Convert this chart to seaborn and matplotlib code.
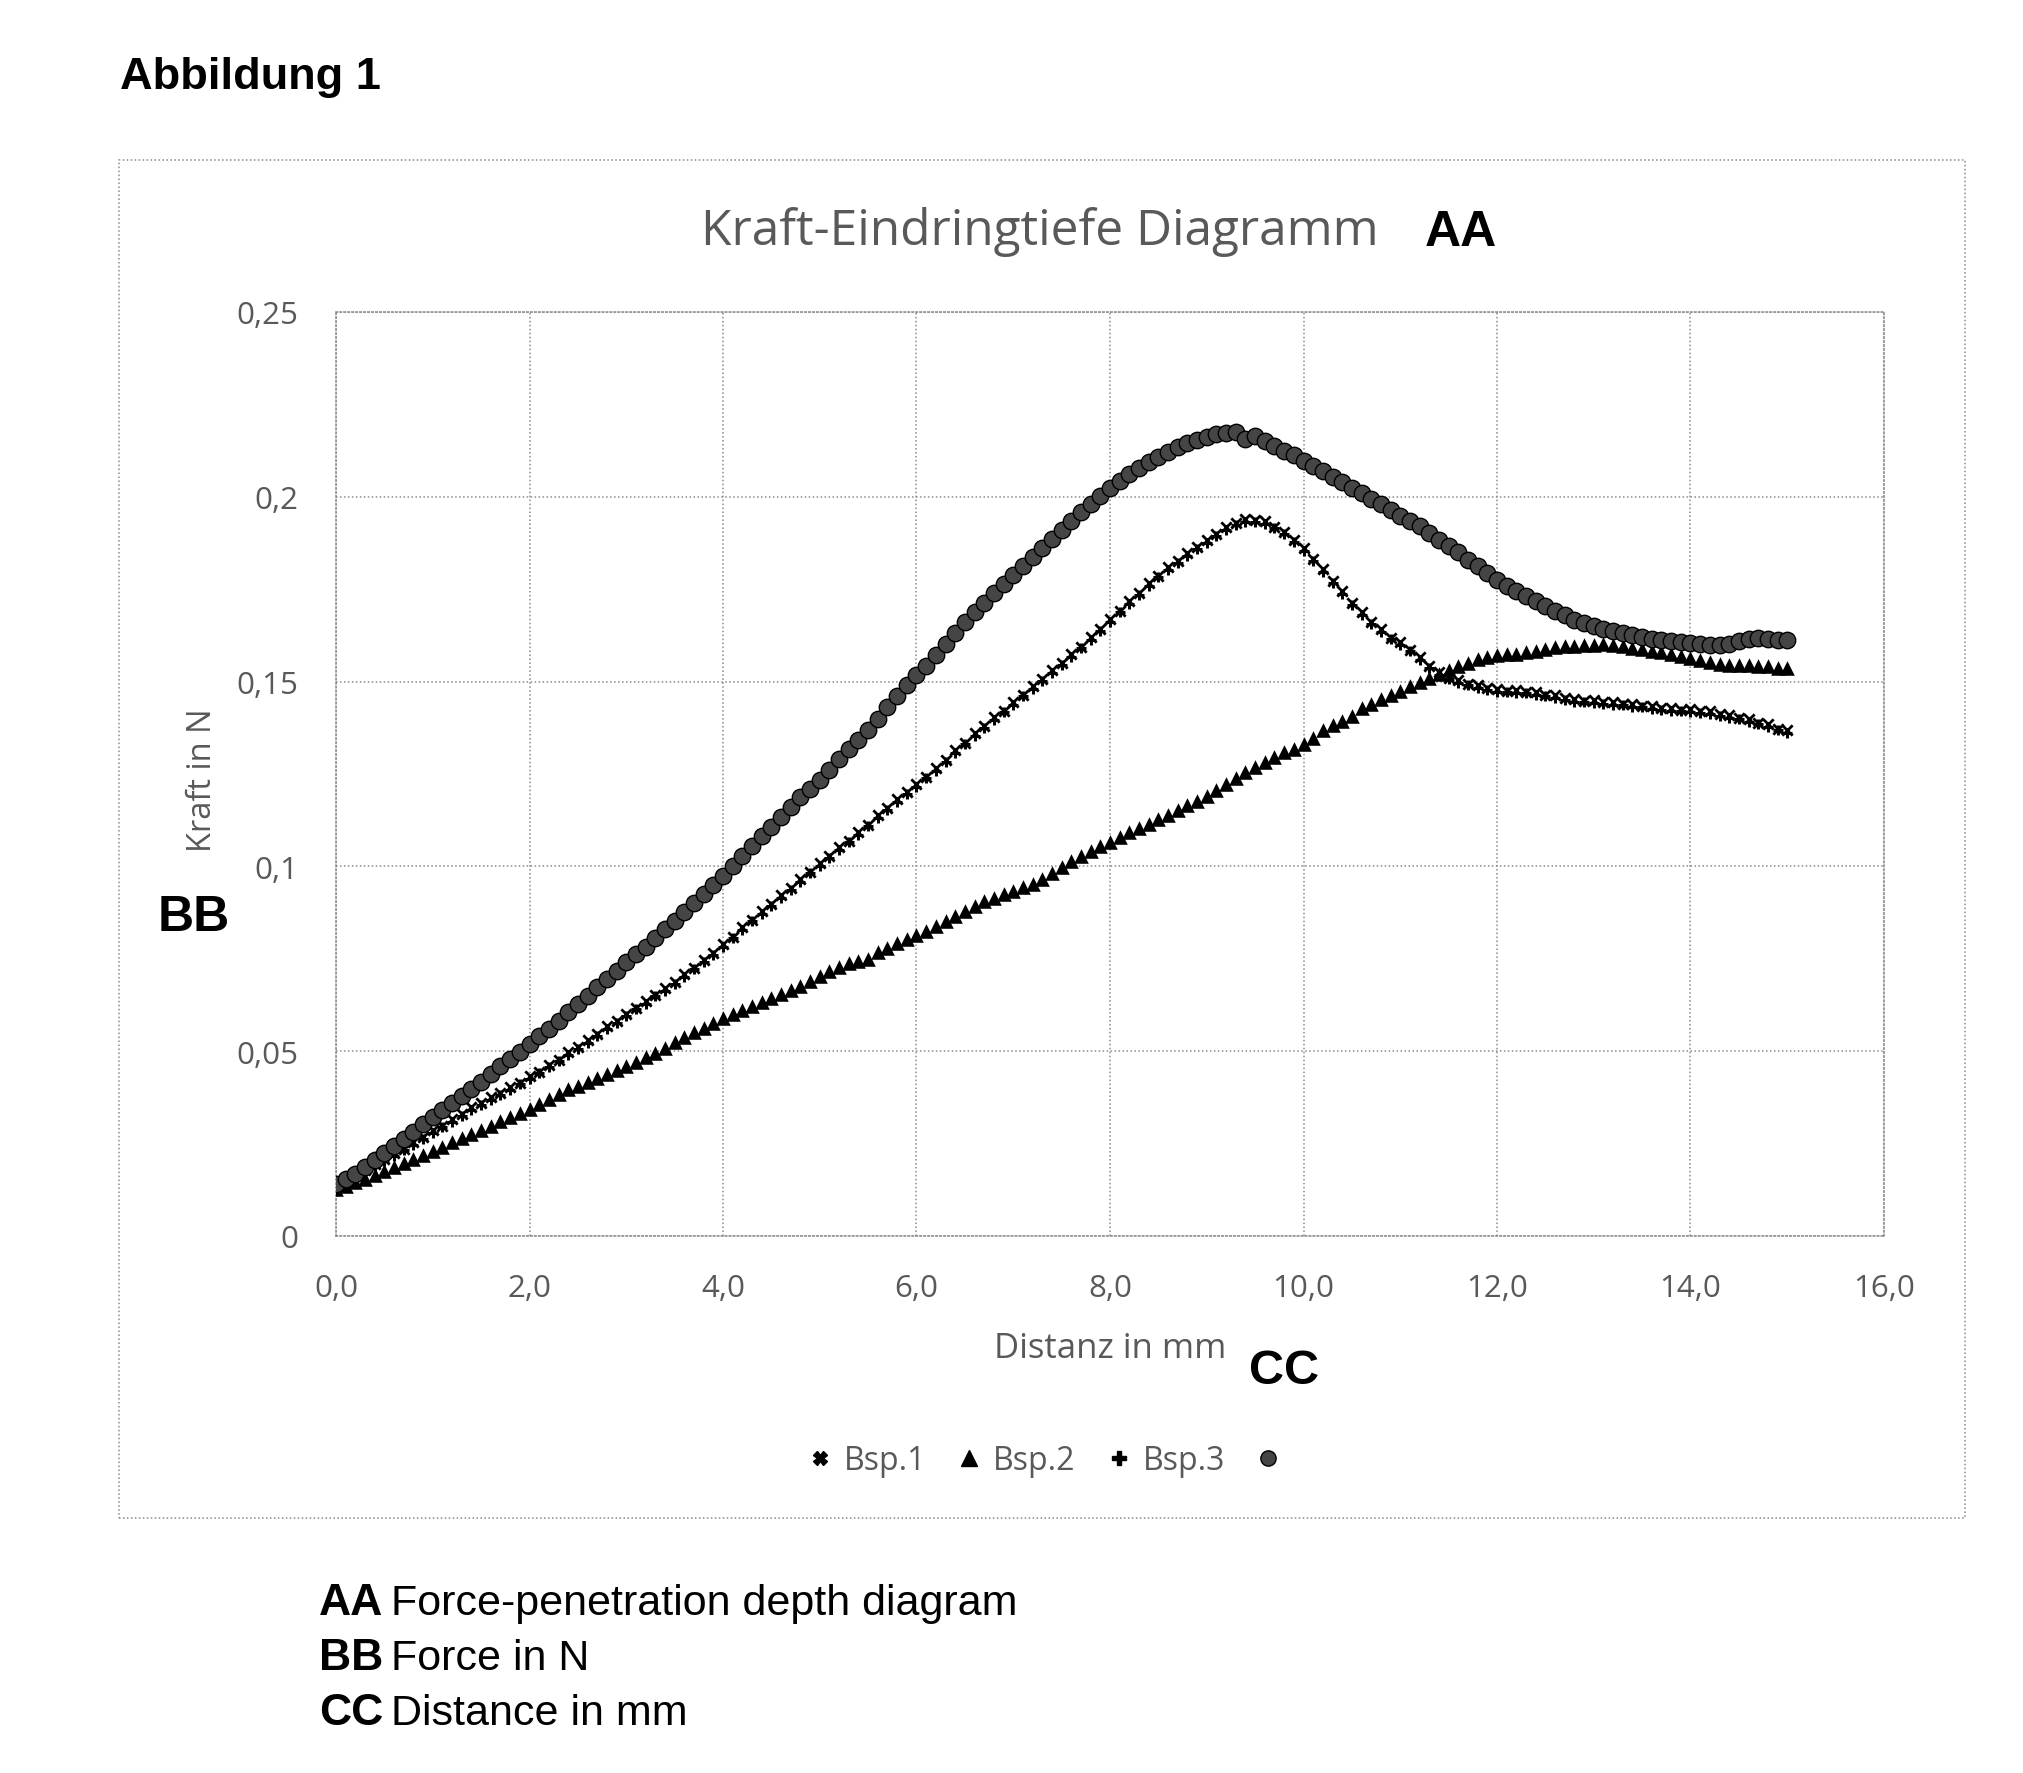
import matplotlib.pyplot as plt
import seaborn as sns
from matplotlib.lines import Line2D
from matplotlib.patches import Rectangle

# ---------------------------------------------------------------------------
# Data (distance in mm, force in N)
# ---------------------------------------------------------------------------
distanz_mm = [
    0.0, 0.1, 0.2, 0.3, 0.4, 0.5, 0.6, 0.7, 0.8, 0.9,
    1.0, 1.1, 1.2, 1.3, 1.4, 1.5, 1.6, 1.7, 1.8, 1.9,
    2.0, 2.1, 2.2, 2.3, 2.4, 2.5, 2.6, 2.7, 2.8, 2.9,
    3.0, 3.1, 3.2, 3.3, 3.4, 3.5, 3.6, 3.7, 3.8, 3.9,
    4.0, 4.1, 4.2, 4.3, 4.4, 4.5, 4.6, 4.7, 4.8, 4.9,
    5.0, 5.1, 5.2, 5.3, 5.4, 5.5, 5.6, 5.7, 5.8, 5.9,
    6.0, 6.1, 6.2, 6.3, 6.4, 6.5, 6.6, 6.7, 6.8, 6.9,
    7.0, 7.1, 7.2, 7.3, 7.4, 7.5, 7.6, 7.7, 7.8, 7.9,
    8.0, 8.1, 8.2, 8.3, 8.4, 8.5, 8.6, 8.7, 8.8, 8.9,
    9.0, 9.1, 9.2, 9.3, 9.4, 9.5, 9.6, 9.7, 9.8, 9.9,
    10.0, 10.1, 10.2, 10.3, 10.4, 10.5, 10.6, 10.7, 10.8, 10.9,
    11.0, 11.1, 11.2, 11.3, 11.4, 11.5, 11.6, 11.7, 11.8, 11.9,
    12.0, 12.1, 12.2, 12.3, 12.4, 12.5, 12.6, 12.7, 12.8, 12.9,
    13.0, 13.1, 13.2, 13.3, 13.4, 13.5, 13.6, 13.7, 13.8, 13.9,
    14.0, 14.1, 14.2, 14.3, 14.4, 14.5, 14.6, 14.7, 14.8, 14.9,
    15.0,
]

bsp1 = [
    .0138, .0151, .0167, .0179, .0195, .0207, .0224, .0236, .0254, .0268,
    .0286, .0298, .0317, .0330, .0349, .0359, .0375, .0386, .0402, .0414,
    .0432, .0445, .0464, .0477, .0497, .0511, .0531, .0546, .0567, .0581,
    .0602, .0617, .0637, .0652, .0672, .0687, .0709, .0726, .0748, .0765,
    .0790, .0809, .0836, .0856, .0880, .0897, .0922, .0941, .0966, .0985,
    .1010, .1028, .1052, .1070, .1094, .1113, .1138, .1157, .1182, .1200,
    .1224, .1243, .1267, .1287, .1314, .1334, .1360, .1379, .1403, .1421,
    .1445, .1464, .1488, .1506, .1531, .1550, .1575, .1594, .1620, .1641,
    .1669, .1691, .1718, .1739, .1766, .1787, .1810, .1826, .1848, .1863,
    .1884, .1898, .1918, .1929, .1939, .1937, .1934, .1919, .1906, .1883,
    .1862, .1831, .1804, .1771, .1744, .1712, .1688, .1661, .1642, .1619,
    .1607, .1586, .1567, .1541, .1527, .1511, .1504, .1494, .1491, .1482,
    .1480, .1475, .1476, .1472, .1473, .1465, .1463, .1455, .1453, .1448,
    .1449, .1444, .1445, .1440, .1440, .1434, .1434, .1428, .1429, .1424,
    .1425, .1420, .1420, .1412, .1410, .1402, .1399, .1389, .1384, .1373,
    .1368,
]

bsp2 = [
    .0127, .0136, .0145, .0154, .0164, .0175, .0186, .0197, .0208, .0219,
    .0230, .0242, .0253, .0264, .0275, .0287, .0298, .0310, .0321, .0333,
    .0344, .0357, .0371, .0384, .0398, .0406, .0418, .0428, .0438, .0449,
    .0460, .0472, .0483, .0496, .0510, .0524, .0538, .0551, .0564, .0577,
    .0590, .0600, .0611, .0622, .0633, .0644, .0655, .0666, .0677, .0690,
    .0703, .0716, .0728, .0738, .0744, .0750, .0768, .0780, .0792, .0803,
    .0815, .0826, .0839, .0852, .0866, .0879, .0893, .0907, .0915, .0924,
    .0934, .0943, .0952, .0967, .0983, .0998, .1014, .1029, .1042, .1055,
    .1067, .1079, .1092, .1104, .1116, .1128, .1140, .1152, .1165, .1177,
    .1190, .1206, .1222, .1239, .1255, .1268, .1282, .1295, .1309, .1318,
    .1330, .1348, .1370, .1382, .1394, .1406, .1429, .1440, .1452, .1464,
    .1475, .1487, .1498, .1510, .1521, .1531, .1541, .1551, .1561, .1567,
    .1572, .1574, .1575, .1580, .1584, .1589, .1593, .1595, .1597, .1598,
    .1600, .1602, .1599, .1595, .1591, .1588, .1584, .1579, .1575, .1570,
    .1565, .1559, .1553, .1548, .1546, .1545, .1544, .1543, .1541, .1538,
    .1536,
]

bsp3 = [
    .0132, .0146, .0159, .0174, .0187, .0202, .0216, .0232, .0246, .0263,
    .0278, .0294, .0309, .0326, .0341, .0355, .0367, .0382, .0394, .0410,
    .0424, .0441, .0456, .0473, .0489, .0507, .0523, .0542, .0559, .0577,
    .0594, .0613, .0629, .0648, .0664, .0683, .0701, .0722, .0740, .0761,
    .0782, .0805, .0828, .0852, .0872, .0893, .0914, .0937, .0958, .0981,
    .1002, .1024, .1044, .1066, .1086, .1109, .1130, .1153, .1174, .1196,
    .1216, .1239, .1259, .1283, .1306, .1330, .1352, .1375, .1395, .1417,
    .1437, .1460, .1480, .1502, .1523, .1546, .1567, .1590, .1612, .1637,
    .1661, .1687, .1710, .1735, .1758, .1783, .1802, .1822, .1840, .1859,
    .1876, .1894, .1910, .1925, .1931, .1933, .1926, .1915, .1898, .1879,
    .1854, .1827, .1796, .1767, .1736, .1708, .1680, .1657, .1634, .1615,
    .1599, .1582, .1559, .1537, .1519, .1507, .1496, .1490, .1483, .1478,
    .1472, .1471, .1468, .1468, .1465, .1461, .1455, .1451, .1445, .1444,
    .1441, .1440, .1437, .1436, .1432, .1430, .1426, .1424, .1421, .1420,
    .1417, .1416, .1412, .1408, .1402, .1398, .1391, .1385, .1376, .1369,
    .1360,
]

# fourth series (circles), no name in the legend
bsp4 = [
    .0141, .0154, .0168, .0186, .0205, .0224, .0244, .0263, .0282, .0302,
    .0321, .0340, .0359, .0378, .0398, .0418, .0438, .0459, .0479, .0499,
    .0519, .0540, .0560, .0583, .0605, .0628, .0650, .0673, .0696, .0718,
    .0741, .0762, .0782, .0806, .0830, .0853, .0877, .0900, .0925, .0950,
    .0975, .1001, .1027, .1054, .1081, .1107, .1134, .1160, .1187, .1210,
    .1235, .1262, .1290, .1317, .1343, .1370, .1400, .1430, .1460, .1490,
    .1517, .1543, .1572, .1602, .1631, .1660, .1687, .1714, .1739, .1764,
    .1789, .1813, .1838, .1862, .1886, .1910, .1934, .1958, .1981, .2003,
    .2023, .2042, .2061, .2079, .2094, .2108, .2122, .2135, .2145, .2155,
    .2163, .2170, .2173, .2174, .2156, .2165, .2150, .2138, .2125, .2112,
    .2098, .2084, .2069, .2054, .2040, .2025, .2010, .1995, .1980, .1963,
    .1949, .1935, .1920, .1902, .1884, .1868, .1850, .1830, .1812, .1793,
    .1776, .1760, .1745, .1731, .1718, .1705, .1692, .1680, .1667, .1658,
    .1650, .1643, .1637, .1632, .1627, .1621, .1616, .1613, .1610, .1607,
    .1605, .1603, .1600, .1598, .1603, .1610, .1615, .1618, .1616, .1612,
    .1613,
]

series_labels = ["Bsp.1", "Bsp.2", "Bsp.3", ""]

x_ticks = [0, 2, 4, 6, 8, 10, 12, 14, 16]
x_tick_labels = ["0,0", "2,0", "4,0", "6,0", "8,0", "10,0", "12,0", "14,0", "16,0"]
y_ticks = [0, 0.05, 0.1, 0.15, 0.2, 0.25]
y_tick_labels = ["0", "0,05", "0,1", "0,15", "0,2", "0,25"]

# ---------------------------------------------------------------------------
W, H = 2024, 1774


def fx(px):
    return px / W


def fy(py):
    return 1 - py / H


sns.set_style("white")
plt.rcParams["font.family"] = ["Open Sans", "DejaVu Sans"]

GREY_TXT = "#595959"
GRID = "#8a8a8a"
DOTS = (0, (1, 1.6))

fig = plt.figure(figsize=(W / 100, H / 100), dpi=100)
ax = fig.add_axes([fx(336), fy(1237), fx(1884) - fx(336), fy(313) - fy(1237)])

# ── series ────────────────────────────────────────────────────────────────
sns.scatterplot(x=distanz_mm, y=bsp1, marker="x", s=55, color="black",
                linewidth=2.0, ax=ax, zorder=3)
sns.scatterplot(x=distanz_mm, y=bsp2, marker="^", s=110, color="black",
                linewidth=0, ax=ax, zorder=4)
sns.scatterplot(x=distanz_mm, y=bsp3, marker="+", s=45, color="black",
                linewidth=2.2, ax=ax, zorder=5)
sns.scatterplot(x=distanz_mm, y=bsp4, marker="o", s=140, color="#454545",
                edgecolor="black", linewidth=1.0, ax=ax, zorder=6)

# ── axes styling ──────────────────────────────────────────────────────────
ax.set_xlim(0, 16)
ax.set_ylim(0, 0.25)
ax.set_xticks(x_ticks)
ax.set_xticklabels(x_tick_labels)
ax.set_yticks(y_ticks)
ax.set_yticklabels(y_tick_labels)
ax.tick_params(length=0, labelsize=22.5, labelcolor=GREY_TXT, pad=27)
ax.grid(True, color=GRID, linestyle=DOTS, linewidth=1.1)
ax.set_axisbelow(True)
for sp in ax.spines.values():
    sp.set_visible(True)
    sp.set_color(GRID)
    sp.set_linestyle(DOTS)
    sp.set_linewidth(1.1)
ax.set_xlabel("")
ax.set_ylabel("")

# chart frame
fig.add_artist(Rectangle((fx(119), fy(1519)), fx(1965) - fx(119), fy(161) - fy(1519),
                         transform=fig.transFigure, fill=False, edgecolor=GRID,
                         linestyle=DOTS, linewidth=1.1))

# ── legend ────────────────────────────────────────────────────────────────
handles = [
    Line2D([], [], ls="none", marker="X", ms=10, color="black"),
    Line2D([], [], ls="none", marker="^", ms=11, color="black"),
    Line2D([], [], ls="none", marker="P", ms=10, color="black"),
    Line2D([], [], ls="none", marker="o", ms=11, color="#454545", mec="black"),
]
fig.legend(handles, series_labels, loc="center", bbox_to_anchor=(fx(1048), fy(1462)),
           ncol=4, frameon=False, fontsize=23, labelcolor=GREY_TXT,
           handletextpad=0.25, columnspacing=0.85, handlelength=1.0)

# ── texts ─────────────────────────────────────────────────────────────────
fig.text(fx(1040), fy(232), "Kraft-Eindringtiefe Diagramm", ha="center", va="center",
         fontsize=35.7, color=GREY_TXT)
fig.text(fx(203), fy(780), "Kraft in N", rotation=90, ha="center", va="center",
         fontsize=23.5, color=GREY_TXT)
fig.text(fx(1110), fy(1349), "Distanz in mm", ha="center", va="center",
         fontsize=25, color=GREY_TXT)

bold = dict(family="Liberation Sans", fontweight="bold", color="black")
fig.text(fx(1425), fy(233), "AA", ha="left", va="center", fontsize=36, **bold)
fig.text(fx(158), fy(918), "BB", ha="left", va="center", fontsize=36, **bold)
fig.text(fx(1249), fy(1372), "CC", ha="left", va="center", fontsize=35, **bold)
fig.text(fx(120), fy(77), "Abbildung 1", ha="left", va="center", fontsize=32.5, **bold)

notes = [("AA", "Force-penetration depth diagram"),
         ("BB", "Force in N"),
         ("CC", "Distance in mm")]
for i, (key, txt) in enumerate(notes):
    ypos = fy(1615 + i * 55)
    fig.text(fx(319), ypos, key, ha="left", va="baseline", fontsize=32, **bold)
    fig.text(fx(391), ypos, txt, ha="left", va="baseline", fontsize=31,
             family="Liberation Sans", color="black")

fig.savefig("out.png", dpi=100)
